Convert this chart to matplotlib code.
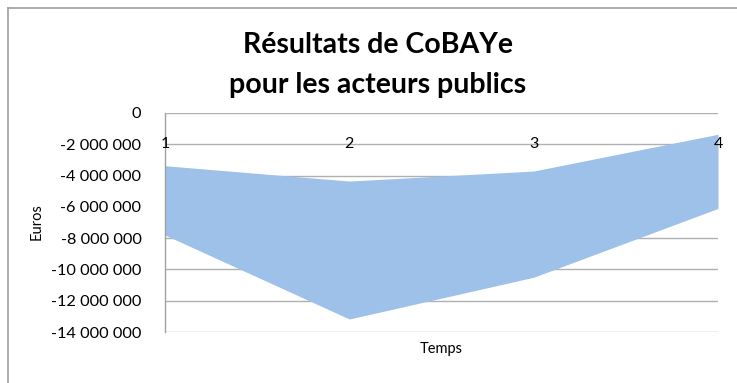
import matplotlib
matplotlib.use("Agg")
import matplotlib.pyplot as plt
from matplotlib.lines import Line2D

# Scenario bounds over time (euros)
periods = [1, 2, 3, 4]
upper_bound = [-3_370_000, -4_350_000, -3_710_000, -1_360_000]
lower_bound = [-7_800_000, -13_170_000, -10_500_000, -6_100_000]
y_ticks = [0, -2_000_000, -4_000_000, -6_000_000, -8_000_000, -10_000_000, -12_000_000, -14_000_000]
period_labels = ["1", "2", "3", "4"]

plt.rcParams["font.family"] = ["Lato", "DejaVu Sans"]

fig = plt.figure(figsize=(7.37, 3.83), dpi=100)
ax = fig.add_axes([165 / 737, 1 - 332 / 383, (718 - 165) / 737, (332 - 113) / 383])

ax.fill_between(periods, lower_bound, upper_bound, color="#9dc1e8", linewidth=0, zorder=2)

ax.set_xlim(periods[0], periods[-1])
ax.set_ylim(y_ticks[-1], y_ticks[0])
ax.set_yticks(y_ticks)
ax.set_yticklabels([f"{v:,}".replace(",", " ") for v in y_ticks], fontsize=11.8)
ax.tick_params(axis="y", length=0, pad=17)
ax.set_xticks([])
ax.grid(axis="y", color="#b0b0b0", linewidth=1.0, zorder=1)
for side in ("top", "right", "bottom"):
    ax.spines[side].set_visible(False)
ax.spines["left"].set_color("#a0a0a0")
ax.spines["left"].set_linewidth(1.0)

# category labels sit along the upper part of the plot
for p, lab in zip(periods, period_labels):
    ax.text(p, -2_000_000, lab, ha="center", va="center", fontsize=11.5, zorder=3)

fig.text(37 / 737, 1 - 222 / 383, "Euros", ha="center", va="center", rotation=90, fontsize=10.5)
fig.text(441 / 737, 1 - 349 / 383, "Temps", ha="center", va="center", fontsize=10.5)

fig.text(378 / 737, 1 - 45 / 383, "Résultats de CoBAYe", ha="center", va="center",
         fontsize=20.5, fontweight="bold")
fig.text(378 / 737, 1 - 85 / 383, "pour les acteurs publics", ha="center", va="center",
         fontsize=20.5, fontweight="bold")

# chart frame
fig.add_artist(Line2D([8 / 737, 1], [1 - 8 / 383, 1 - 8 / 383], transform=fig.transFigure,
                      color="#a0a0a0", linewidth=1.2))
fig.add_artist(Line2D([8 / 737, 8 / 737], [0, 1 - 8 / 383], transform=fig.transFigure,
                      color="#a0a0a0", linewidth=1.2))

fig.savefig("out.png", dpi=100)
